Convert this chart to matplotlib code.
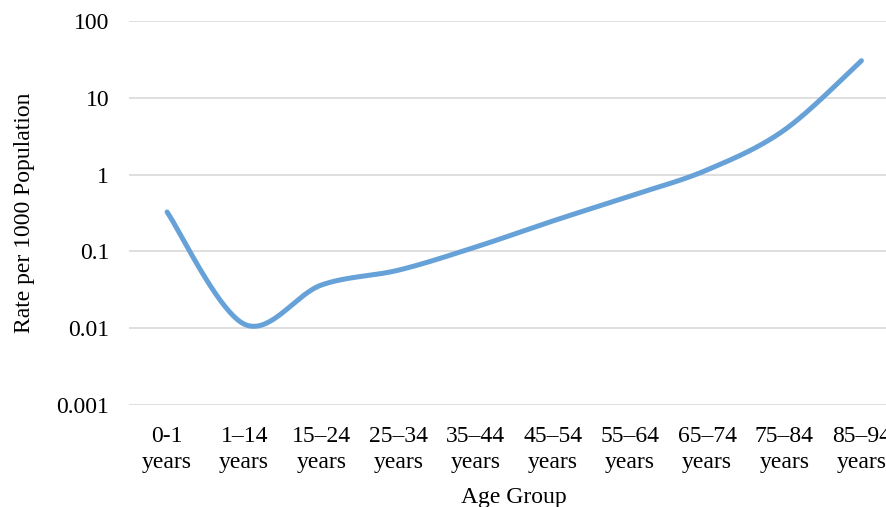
import numpy as np
import matplotlib
matplotlib.use("Agg")
import matplotlib.pyplot as plt

age_groups = ["0-1\nyears", "1\u201314\nyears", "15\u201324\nyears", "25\u201334\nyears",
              "35\u201344\nyears", "45\u201354\nyears", "55\u201364\nyears", "65\u201374\nyears",
              "75\u201384\nyears", "85\u201394\nyears"]
rates = [0.326, 0.0113, 0.0365, 0.057, 0.114, 0.249, 0.526, 1.15, 3.8, 30.4]
y_ticks = [0.001, 0.01, 0.1, 1, 10, 100]
y_tick_labels = ["0.001", "0.01", "0.1", "1", "10", "100"]


def smooth_curve(xs, ys, n=40):
    """Cardinal-spline (Bezier) smoothing in x / log10(y) space."""
    xs = np.asarray(xs, float)
    ly = np.log10(np.asarray(ys, float))
    pts = np.column_stack([xs, ly])
    out = []
    for i in range(len(pts) - 1):
        p0 = pts[i - 1] if i > 0 else pts[i]
        p1 = pts[i]
        p2 = pts[i + 1]
        p3 = pts[i + 2] if i + 2 < len(pts) else pts[i + 1]
        c1 = p1 + (p2 - p0) / 6.0
        c2 = p2 - (p3 - p1) / 6.0
        t = np.linspace(0, 1, n)[:, None]
        seg = ((1 - t) ** 3) * p1 + 3 * ((1 - t) ** 2) * t * c1 + 3 * (1 - t) * t ** 2 * c2 + t ** 3 * p2
        out.append(seg if i == 0 else seg[1:])
    seg = np.vstack(out)
    return seg[:, 0], 10 ** seg[:, 1]


plt.rcParams["font.family"] = ["Liberation Serif", "DejaVu Serif"]

fig = plt.figure(figsize=(8.87, 5.07), dpi=100)
ax = fig.add_axes([128.5 / 887, 102 / 507, (900 - 128.5) / 887, (486 - 102) / 507])

x = np.arange(len(rates))
sx, sy = smooth_curve(x, rates)
ax.plot(sx, sy, color="#66a2d8", lw=3.6, solid_capstyle="round", zorder=3)

ax.set_yscale("log")
ax.set_ylim(0.001, 100)
ax.set_xlim(-0.5, len(rates) - 0.5)
ax.set_yticks(y_ticks)
ax.set_yticklabels(y_tick_labels)
ax.yaxis.set_minor_locator(matplotlib.ticker.NullLocator())
ax.set_xticks(x)
ax.set_xticklabels(age_groups, linespacing=1.3)

ax.grid(axis="y", color="#d9d9d9", lw=1.2)
ax.set_axisbelow(True)
for s in ax.spines.values():
    s.set_visible(False)
ax.tick_params(axis="both", length=0, labelsize=17, colors="black")
ax.tick_params(axis="y", pad=14)
ax.tick_params(axis="x", pad=15)

ax.set_ylabel("Rate per 1000 Population", fontsize=17, labelpad=15)
ax.set_xlabel("Age Group", fontsize=17, labelpad=10)

fig.savefig("out.png", dpi=100)
